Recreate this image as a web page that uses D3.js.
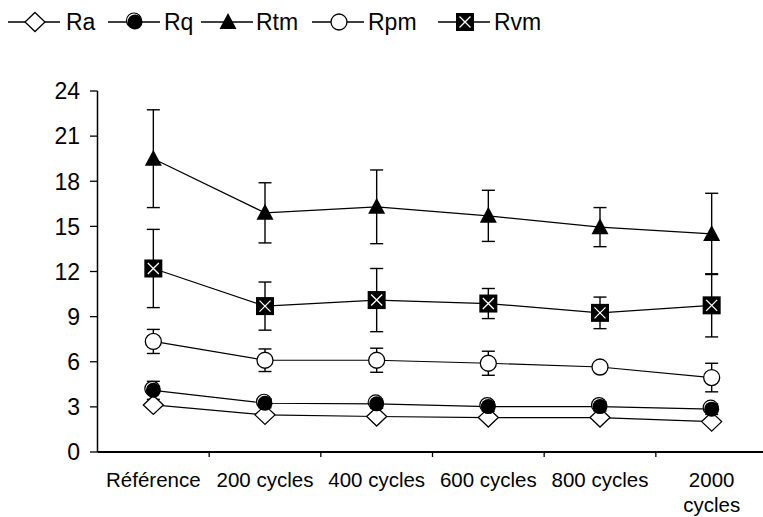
<!DOCTYPE html>
<html><head><meta charset="utf-8">
<script src="https://cdn.jsdelivr.net/npm/d3@7"></script>
<style>body{margin:0;background:#fff}svg{display:block}text{font-family:"Liberation Sans",Arial,sans-serif;fill:#000}</style>
</head><body><svg id="c" width="763" height="517"></svg>
<script>
const categories = ["Référence","200 cycles","400 cycles","600 cycles","800 cycles","2000 cycles"];
const tickLabels = [["Référence"],["200 cycles"],["400 cycles"],["600 cycles"],["800 cycles"],["2000","cycles"]];
const seriesNames = ["Ra","Rq","Rtm","Rpm","Rvm"];
const Ra = [3.13,2.47,2.36,2.29,2.29,2.02];
const RaErr = [0.2,0.2,0.2,0.2,0.2,0.2];
const Rq = [4.1,3.24,3.2,3.02,3.02,2.85];
const RqErr = [0.6,0.3,0.3,0.3,0.3,0.35];
const Rtm = [19.5,15.9,16.3,15.7,14.95,14.5];
const RtmErr = [3.25,2.0,2.45,1.7,1.3,2.7];
const Rpm = [7.35,6.1,6.1,5.9,5.65,4.95];
const RpmErr = [0.8,0.75,0.8,0.8,0.3,0.95];
const Rvm = [12.2,9.7,10.1,9.87,9.25,9.75];
const RvmErr = [2.6,1.6,2.1,1.0,1.05,2.1];
const yTicks = [0,3,6,9,12,15,18,21,24];

const svg = d3.select("#c");
const x = d3.scaleBand().domain(categories).range([97.5, 767.5]);
const y = d3.scaleLinear().domain([0,24]).range([452, 91]);
const cx = c => x(c) + x.bandwidth()/2;

const series = [
  {name:"Ra", v:Ra, e:RaErr, sym:"diamond"},
  {name:"Rq", v:Rq, e:RqErr, sym:"dot"},
  {name:"Rtm", v:Rtm, e:RtmErr, sym:"triangle"},
  {name:"Rpm", v:Rpm, e:RpmErr, sym:"circle"},
  {name:"Rvm", v:Rvm, e:RvmErr, sym:"xsquare"}
];

function marker(g, sym, px, py) {
  if (sym === "diamond") {
    g.append("path").attr("d", `M${px},${py-9.5}L${px+10},${py}L${px},${py+9.5}L${px-10},${py}Z`)
      .attr("fill","#fff").attr("stroke","#000").attr("stroke-width",1.3);
  } else if (sym === "dot") {
    g.append("circle").attr("cx",px-1).attr("cy",py-1.5).attr("r",7.5)
      .attr("fill","#fff").attr("stroke","#000").attr("stroke-width",1.2);
    g.append("circle").attr("cx",px).attr("cy",py).attr("r",7.5).attr("fill","#000");
  } else if (sym === "triangle") {
    g.append("path").attr("d", `M${px},${py-9}L${px+8.5},${py+7}L${px-8.5},${py+7}Z`).attr("fill","#000");
  } else if (sym === "circle") {
    g.append("circle").attr("cx",px).attr("cy",py).attr("r",8)
      .attr("fill","#fff").attr("stroke","#000").attr("stroke-width",1.3);
  } else if (sym === "xsquare") {
    g.append("rect").attr("x",px-9).attr("y",py-9).attr("width",18).attr("height",18).attr("fill","#000");
    g.append("path").attr("d",`M${px-5.5},${py-5.5}L${px+5.5},${py+5.5}M${px+5.5},${py-5.5}L${px-5.5},${py+5.5}`)
      .attr("stroke","#fff").attr("stroke-width",1.3);
  }
}

// axes
const yAxis = svg.append("g");
yAxis.append("line").attr("x1",97.5).attr("x2",97.5).attr("y1",y(24)).attr("y2",y(0)).attr("stroke","#000").attr("stroke-width",1.5);
yTicks.forEach(t => {
  yAxis.append("line").attr("x1",90).attr("x2",97.5).attr("y1",y(t)).attr("y2",y(t)).attr("stroke","#000").attr("stroke-width",1.3);
  yAxis.append("text").attr("x",80).attr("y",y(t)).attr("dy","0.36em").attr("text-anchor","end")
    .attr("font-size",23).text(t);
});
const xAxis = svg.append("g");
xAxis.append("line").attr("x1",97.5).attr("x2",767.5).attr("y1",y(0)).attr("y2",y(0)).attr("stroke","#000").attr("stroke-width",2);
categories.forEach((c,i) => {
  if (i > 0) xAxis.append("line").attr("x1",x(c)).attr("x2",x(c)).attr("y1",y(0)).attr("y2",y(0)+5).attr("stroke","#000").attr("stroke-width",1.3);
  const t = xAxis.append("text").attr("x",cx(c)).attr("y",487).attr("text-anchor","middle").attr("font-size",20.5);
  tickLabels[i].forEach((ln,j) => t.append("tspan").attr("x",cx(c)).attr("dy", j===0?0:25).text(ln));
});

// error bars
const eb = svg.append("g").attr("stroke","#000").attr("stroke-width",1.4);
series.forEach(s => categories.forEach((c,i) => {
  const px = cx(c), top = y(s.v[i]+s.e[i]), bot = y(s.v[i]-s.e[i]);
  eb.append("line").attr("x1",px).attr("x2",px).attr("y1",top).attr("y2",bot);
  eb.append("line").attr("x1",px-6.5).attr("x2",px+6.5).attr("y1",top).attr("y2",top);
  eb.append("line").attr("x1",px-6.5).attr("x2",px+6.5).attr("y1",bot).attr("y2",bot);
}));

// lines
const line = d3.line().x((d,i)=>cx(categories[i])).y(d=>y(d));
series.forEach(s => svg.append("path").attr("d", line(s.v)).attr("fill","none").attr("stroke","#000").attr("stroke-width",1.2));

// markers
const mk = svg.append("g");
series.forEach(s => categories.forEach((c,i) => marker(mk, s.sym, cx(c), y(s.v[i]))));

// legend
const lg = svg.append("g");
const legLineX = [8,108,201,312,438];
const legTextX = [66,164,256,368,494];
series.forEach((s,k) => {
  const ly = 22, lx = legLineX[k];
  lg.append("line").attr("x1",lx).attr("x2",lx+52).attr("y1",ly).attr("y2",ly).attr("stroke","#000").attr("stroke-width",1.3);
  marker(lg, s.sym, lx+27, ly);
  lg.append("text").attr("x",legTextX[k]).attr("y",30).attr("font-size",23).text(s.name);
});
</script></body></html>
